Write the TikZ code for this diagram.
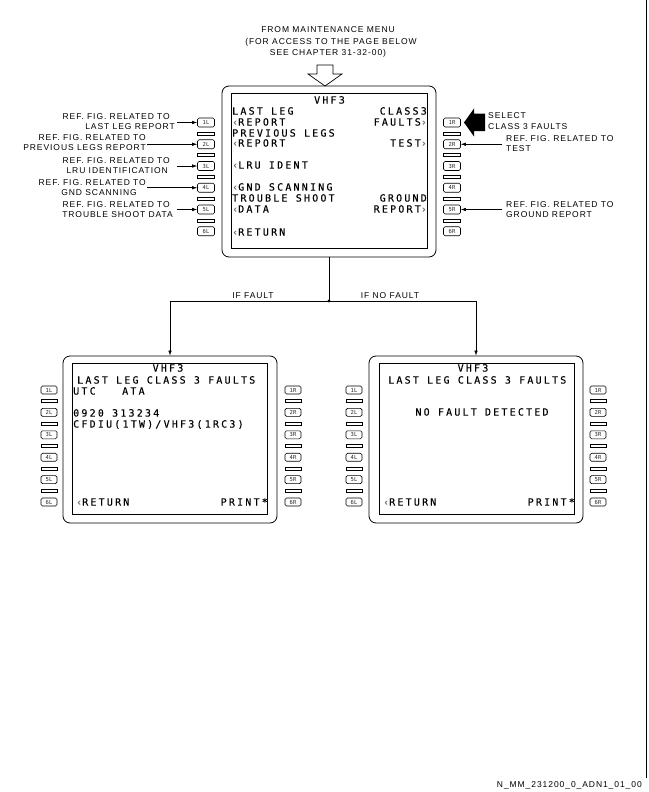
\documentclass[tikz,border=0pt]{standalone}
\usepackage{fontspec}
\setmainfont{Liberation Sans}
\newfontfamily\mcdufont[LetterSpace=22,FakeBold=0.2]{DejaVu Sans Mono}
\newfontfamily\lblfont[LetterSpace=11]{Liberation Sans}
\newfontfamily\keyfont{DejaVu Sans Mono}
\usetikzlibrary{arrows.meta}
\newcommand{\chv}{\textcolor{black!55}{‹}}
\newcommand{\chvr}{\textcolor{black!55}{›}}
\tikzset{
  mtxt/.style={font=\mcdufont\fontsize{10}{10}\selectfont, inner sep=0pt},
  ltxt/.style={font=\lblfont\fontsize{8.5}{8.5}\selectfont, inner sep=0pt},
  lsk/.style={draw, rounded corners=1.5pt, minimum width=17pt, minimum height=9pt, inner sep=0pt,
              font=\keyfont\fontsize{5.5}{5.5}\selectfont, text=black!85, line width=0.6pt},
  lskb/.style={lsk, minimum width=16pt, minimum height=8pt},
  sepbar/.style={draw, minimum width=17pt, minimum height=3pt, inner sep=0pt, line width=0.6pt},
  sepbarb/.style={sepbar, minimum width=16pt},
  outerframe/.style={draw, line width=0.8pt, rounded corners=7pt, inner sep=0pt},
  screen/.style={draw, line width=0.8pt, inner sep=0pt},
  conn/.style={line width=0.6pt, -{Latex[length=5pt,width=3.5pt]}},
}
% #1 prefix, #2 x, #3 y0, #4 pitch, #5 side, #6 key style, #7 bar style
\newcommand{\keycol}[7]{%
  \foreach \i in {1,...,6}{\node[#6] (#1\i) at (#2,{#3+(\i-1)*#4}) {\i#5};}
  \foreach \i in {1,...,5}{\node[#7] (#1s\i) at (#2,{#3+(\i-0.5)*#4}) {};}
}
\begin{document}
\begin{tikzpicture}[x=1pt,y=-1pt]
\useasboundingbox (0,0) rectangle (648,792);

% ---------- header ----------
\node[ltxt, anchor=base] (h1) at (328,33) {FROM MAINTENANCE MENU};
\node[ltxt, anchor=base] (h2) at (331,45) {(FOR ACCESS TO THE PAGE BELOW};
\node[ltxt, anchor=base] (h3) at (328,56) {SEE CHAPTER 31-32-00)};
\draw[line width=0.7pt] (317,65) -- (333,65) -- (333,74) -- (342,74) -- (325,86) -- (308,74) -- (317,74) -- cycle;

% ---------- main display ----------
\node[outerframe, minimum width=214pt, minimum height=171pt] (mf) at (329,171.5) {};
\node[screen, minimum width=196pt, minimum height=155pt] (ms) at (329,170.5) {};
\keycol{mL}{206}{122.5}{21.75}{L}{lsk}{sepbar}
\keycol{mR}{452}{122.5}{21.75}{R}{lsk}{sepbar}

\node[mtxt, anchor=base] (mt0) at (329.5,103.6) {VHF3};
\node[mtxt, anchor=base west] (mt1) at (232,114.6) {LAST LEG};
\node[mtxt, anchor=base west] (mt2) at (232,125.6) {\chv REPORT};
\node[mtxt, anchor=base west] (mt3) at (232,136.6) {PREVIOUS LEGS};
\node[mtxt, anchor=base west] (mt4) at (232,146.6) {\chv REPORT};
\node[mtxt, anchor=base west] (mt5) at (232,168.6) {\chv LRU IDENT};
\node[mtxt, anchor=base west] (mt6) at (232,190.6) {\chv GND SCANNING};
\node[mtxt, anchor=base west] (mt7) at (232,201.6) {TROUBLE SHOOT};
\node[mtxt, anchor=base west] (mt8) at (232,212.6) {\chv DATA};
\node[mtxt, anchor=base west] (mt9) at (232,235.6) {\chv RETURN};
\node[mtxt, anchor=base east] (mr1) at (427,114.6) {CLASS3};
\node[mtxt, anchor=base east] (mr2) at (427,125.6) {FAULTS\chvr};
\node[mtxt, anchor=base east] (mr3) at (427,146.6) {TEST\chvr};
\node[mtxt, anchor=base east] (mr4) at (427,201.6) {GROUND};
\node[mtxt, anchor=base east] (mr5) at (427,212.6) {REPORT\chvr};

% ---------- left labels ----------
\node[ltxt, anchor=base east] (la1) at (170,119) {REF. FIG. RELATED TO};
\node[ltxt, anchor=base east] (lb1) at (175,129) {LAST LEG REPORT};
\node[ltxt, anchor=base east] (la2) at (146,140) {REF. FIG. RELATED TO};
\node[ltxt, anchor=base east] (lb2) at (146,150) {PREVIOUS LEGS REPORT};
\node[ltxt, anchor=base east] (la3) at (170,163) {REF. FIG. RELATED TO};
\node[ltxt, anchor=base east] (lb3) at (168,173) {LRU IDENTIFICATION};
\node[ltxt, anchor=base east] (la4) at (146,185) {REF. FIG. RELATED TO};
\node[ltxt, anchor=base east] (lb4) at (137,195) {GND SCANNING};
\node[ltxt, anchor=base east] (la5) at (170,207) {REF. FIG. RELATED TO};
\node[ltxt, anchor=base east] (lb5) at (173,217) {TROUBLE SHOOT DATA};
\coordinate (ca1) at (177,122.5);
\coordinate (ca2) at (147,144.25);
\coordinate (ca3) at (177,166);
\coordinate (ca4) at (147,187.75);
\coordinate (ca5) at (177,209.5);
\foreach \k in {1,...,5}{\draw[conn] (ca\k) -- (mL\k.west);}

% ---------- right labels ----------
\fill (464,122.5) -- (474,108.5) -- (474,113.5) -- (485,113.5) -- (485,131) -- (474,131) -- (474,136.5) -- cycle;
\node[ltxt, anchor=base west] (rs1) at (488,118) {SELECT};
\node[ltxt, anchor=base west] (rs2) at (488,129) {CLASS 3 FAULTS};
\node[ltxt, anchor=base west] (ra2) at (506,141) {REF. FIG. RELATED TO};
\node[ltxt, anchor=base west] (rb2) at (506,151) {TEST};
\node[ltxt, anchor=base west] (ra5) at (506,207.5) {REF. FIG. RELATED TO};
\node[ltxt, anchor=base west] (rb5) at (506,217.5) {GROUND REPORT};
\coordinate (cr2) at (502,144.25);
\coordinate (cr5) at (502,209.5);
\draw[conn] (cr2) -- (mR2.east);
\draw[conn] (cr5) -- (mR5.east);

% ---------- bottom displays ----------
\node[outerframe, minimum width=214pt, minimum height=167pt] (lf) at (170,439.5) {};
\node[screen, minimum width=195pt, minimum height=151pt] (ls) at (169.5,438.5) {};
\keycol{lL}{49}{390}{22.4}{L}{lskb}{sepbarb}
\keycol{lR}{293}{390}{22.4}{R}{lskb}{sepbarb}
\node[outerframe, minimum width=214pt, minimum height=167pt] (rf) at (476,439.5) {};
\node[screen, minimum width=195pt, minimum height=151pt] (rs) at (476.5,438.5) {};
\keycol{rL}{354}{390}{22.4}{L}{lskb}{sepbarb}
\keycol{rR}{598}{390}{22.4}{R}{lskb}{sepbarb}

% connectors
\coordinate (jn) at (329,301);
\draw[line width=0.6pt] (mf.south) -- (jn);
\draw[conn] (jn) -| (lf.north);
\draw[conn] (jn) -| (rf.north);
\fill (jn) circle (1.7);
\node[ltxt, anchor=base] (iff) at (253,298) {IF FAULT};
\node[ltxt, anchor=base] (ifn) at (390,298) {IF NO FAULT};

% left bottom texts
\node[mtxt, anchor=base] (bl0) at (168,371.6) {VHF3};
\node[mtxt, anchor=base west] (bl1) at (77,383.6) {LAST LEG CLASS 3 FAULTS};
\node[mtxt, anchor=base west] (bl2) at (73,394.6) {UTC};
\node[mtxt, anchor=base west] (bl3) at (122,394.6) {ATA};
\node[mtxt, anchor=base west] (bl4) at (73,416.6) {0920 313234};
\node[mtxt, anchor=base west] (bl5) at (73,427.6) {CFDIU(1TW)/VHF3(1RC3)};
\node[mtxt, anchor=base west] (bl6) at (76,505.6) {\chv RETURN};
\node[mtxt, anchor=base east] (bl7) at (268,505.6) {PRINT*};

% right bottom texts
\node[mtxt, anchor=base] (br0) at (473,371.6) {VHF3};
\node[mtxt, anchor=base west] (br1) at (388,383.6) {LAST LEG CLASS 3 FAULTS};
\node[mtxt, anchor=base] (br2) at (482,415.6) {NO FAULT DETECTED};
\node[mtxt, anchor=base west] (br3) at (383,505.6) {\chv RETURN};
\node[mtxt, anchor=base east] (br4) at (575,505.6) {PRINT*};

% ---------- page edge & footer ----------
\draw[line width=0.8pt] (646.5,0) -- (646.5,778);
\node[ltxt, anchor=base east] (ft) at (642,787) {N\_MM\_231200\_0\_ADN1\_01\_00};
\end{tikzpicture}
\end{document}
